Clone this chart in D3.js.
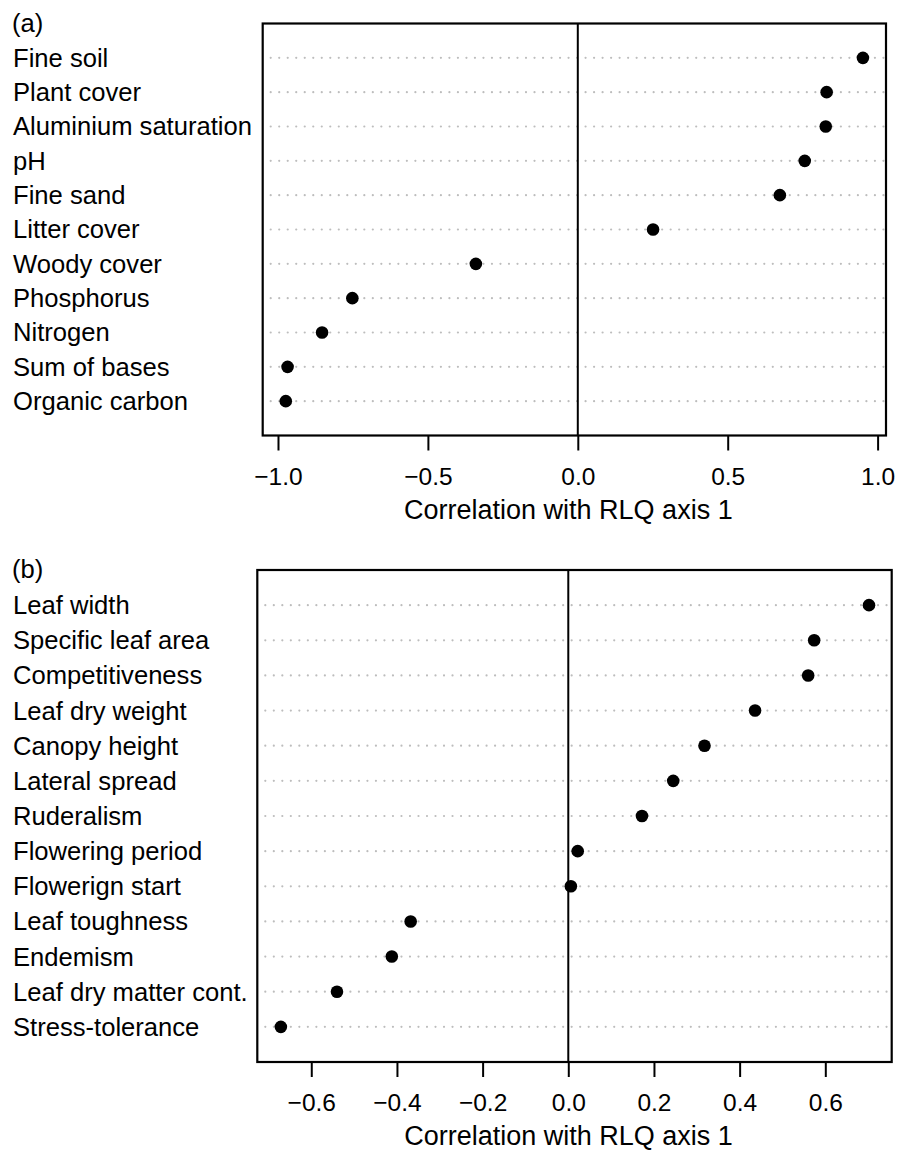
<!DOCTYPE html>
<html lang="en">
<head>
  <meta charset="UTF-8" />
  <title>RLQ axis 1 correlations</title>
  <script src="https://d3js.org/d3.v7.min.js"></script>
  <style>
    body { margin: 0; padding: 0; background: #fff; }
    svg { display: block; font-family: "Liberation Sans", Arial, sans-serif; }
  </style>
</head>
<body>
  <svg width="897" height="1151"></svg>

  <script>
    // panel (a) : environmental variables
    const envLabels = ["Fine soil", "Plant cover", "Aluminium saturation", "pH", "Fine sand",
      "Litter cover", "Woody cover", "Phosphorus", "Nitrogen", "Sum of bases", "Organic carbon"];
    const envValues = [0.951, 0.830, 0.827, 0.757, 0.674, 0.251, -0.340, -0.752, -0.853, -0.968, -0.974];
    const ticksA = [-1.0, -0.5, 0.0, 0.5, 1.0];
    const domainA = [-1.051, 1.028];

    // panel (b) : traits
    const traitLabels = ["Leaf width", "Specific leaf area", "Competitiveness", "Leaf dry weight",
      "Canopy height", "Lateral spread", "Ruderalism", "Flowering period", "Flowerign start",
      "Leaf toughness", "Endemism", "Leaf dry matter cont.", "Stress-tolerance"];
    const traitValues = [0.702, 0.574, 0.560, 0.436, 0.318, 0.245, 0.172, 0.022, 0.006,
      -0.368, -0.412, -0.540, -0.671];
    const ticksB = [-0.6, -0.4, -0.2, 0.0, 0.2, 0.4, 0.6];
    const domainB = [-0.726, 0.755];

    const xTitle = "Correlation with RLQ axis 1";
    const labelSize = 25.6;
    const tickSize = 24.5;
    const titleSize = 27;

    const svg = d3.select("svg");

    function dotPanel(tag, labels, values, ticks, xDomain, box) {
      const g = svg.append("g");

      const x = d3.scaleLinear().domain(xDomain).range([box.left, box.right]);
      const y = d3.scaleLinear().domain([0, labels.length + 1]).range([box.top, box.bottom]);
      const rows = d3.range(1, labels.length + 1);

      // dotted guide lines
      g.selectAll("line.guide")
        .data(rows)
        .join("line")
        .attr("class", "guide")
        .attr("x1", box.left + 8)
        .attr("x2", box.right - 2)
        .attr("y1", d => y(d))
        .attr("y2", d => y(d))
        .attr("stroke", "#bdbdbd")
        .attr("stroke-width", 2.2)
        .attr("stroke-linecap", "round")
        .attr("stroke-dasharray", "0.01,8.5");

      // zero line
      g.append("line")
        .attr("x1", x(0)).attr("x2", x(0))
        .attr("y1", box.top).attr("y2", box.bottom)
        .attr("stroke", "#000")
        .attr("stroke-width", 2);

      // points
      g.selectAll("circle")
        .data(values)
        .join("circle")
        .attr("cx", d => x(d))
        .attr("cy", (d, i) => y(i + 1))
        .attr("r", 6.3)
        .attr("fill", "#000");

      // box
      g.append("rect")
        .attr("x", box.left).attr("y", box.top)
        .attr("width", box.right - box.left)
        .attr("height", box.bottom - box.top)
        .attr("fill", "none")
        .attr("stroke", "#000")
        .attr("stroke-width", 2.2);

      // row labels
      g.selectAll("text.lab")
        .data(labels)
        .join("text")
        .attr("class", "lab")
        .attr("x", 13)
        .attr("y", (d, i) => y(i + 1))
        .attr("dy", "0.35em")
        .attr("font-size", labelSize)
        .text(d => d);

      // x axis
      const axis = g.append("g")
        .attr("transform", `translate(0,${box.bottom})`)
        .call(d3.axisBottom(x)
          .tickValues(ticks)
          .tickSize(15)
          .tickPadding(17)
          .tickFormat(d3.format(".1f")));
      axis.select(".domain").remove();
      axis.selectAll(".tick line").attr("stroke-width", 2);
      axis.selectAll(".tick text")
        .attr("font-size", tickSize)
        .attr("font-family", "Liberation Sans, Arial, sans-serif");

      // axis title
      g.append("text")
        .attr("x", (box.left + box.right) / 2 - 6)
        .attr("y", box.bottom + 83)
        .attr("text-anchor", "middle")
        .attr("font-size", titleSize)
        .text(xTitle);

      // panel tag
      g.append("text")
        .attr("x", 12)
        .attr("y", box.top + 8)
        .attr("font-size", labelSize)
        .text(tag);
    }

    dotPanel("(a)", envLabels, envValues, ticksA, domainA,
      { left: 262.7, right: 886, top: 23.5, bottom: 435.5 });
    dotPanel("(b)", traitLabels, traitValues, ticksB, domainB,
      { left: 257.3, right: 891.7, top: 570, bottom: 1062 });
  </script>
</body>
</html>
